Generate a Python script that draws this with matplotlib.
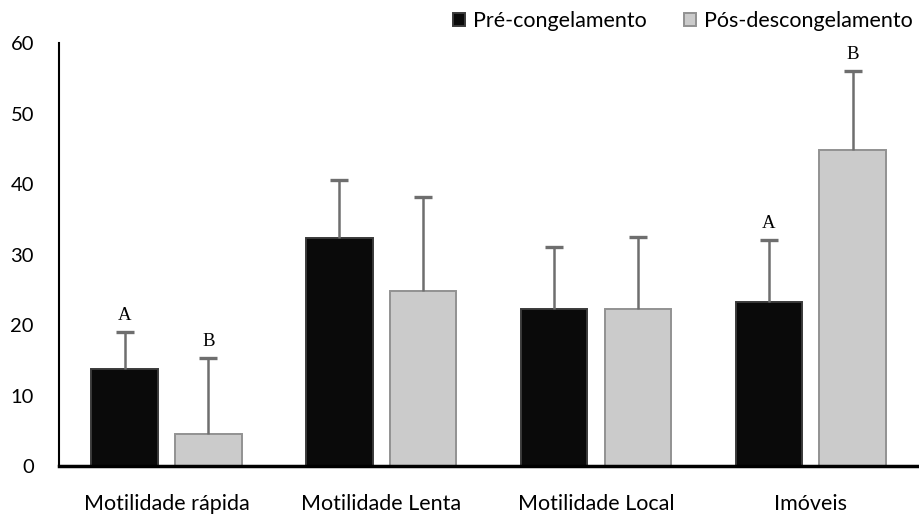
import matplotlib
matplotlib.use("Agg")
import matplotlib.pyplot as plt
import numpy as np

categories = ["Motilidade rápida", "Motilidade Lenta", "Motilidade Local", "Imóveis"]
series_names = ["Pré-congelamento", "Pós-descongelamento"]
pre_values = [13.7, 32.4, 22.3, 23.2]
pos_values = [4.5, 24.8, 22.3, 44.8]
pre_err = [5.3, 8.1, 8.7, 8.8]
pos_err = [10.8, 13.4, 10.2, 11.2]
pre_letters = ["A", "", "", "A"]
pos_letters = ["B", "", "", "B"]
yticks = [0, 10, 20, 30, 40, 50, 60]

plt.rcParams["font.family"] = ["Lato", "DejaVu Sans"]

fig = plt.figure(figsize=(9.19, 5.19), dpi=100)
ax = fig.add_axes([0.0642, 0.1021, 0.935, 0.815])

x = np.arange(len(categories))
width = 0.31
offset = 0.195

colors = ["#0a0a0a", "#cbcbcb"]
edges = ["#3a3a3a", "#929292"]

for vals, errs, letters, dx, fc, ec, name in [
    (pre_values, pre_err, pre_letters, -offset, colors[0], edges[0], series_names[0]),
    (pos_values, pos_err, pos_letters, offset, colors[1], edges[1], series_names[1]),
]:
    vals = np.asarray(vals)
    errs = np.asarray(errs)
    xs = x + dx
    ax.bar(xs, vals, width, color=fc, edgecolor=ec, linewidth=1.4,
           label=name, zorder=2)
    # upper-only error bars with a cap at the top
    ax.vlines(xs, vals, vals + errs, colors="#6e6e6e", linewidth=1.8, zorder=3)
    ax.plot(xs, vals + errs, linestyle="none", marker="_", markersize=13,
            markeredgewidth=2.4, color="#6e6e6e", zorder=3)
    for xi, top, t in zip(xs, vals + errs, letters):
        if t:
            ax.annotate(t, (xi, top), xytext=(0, 6), textcoords="offset points",
                        ha="center", va="bottom", fontsize=13.5,
                        family="Liberation Serif")

ax.set_xlim(-0.5, 3.5)
ax.set_ylim(0, 60)
ax.set_yticks(yticks)
ax.set_xticks(x)
ax.set_xticklabels(categories, fontsize=15.5)
ax.tick_params(axis="y", length=0, labelsize=14.5, pad=18)
ax.tick_params(axis="x", length=0, pad=20)
for s in ["top", "right"]:
    ax.spines[s].set_visible(False)
ax.spines["left"].set_linewidth(1.5)
ax.spines["bottom"].set_linewidth(2.5)

ax.legend(loc="lower right", bbox_to_anchor=(1.0, 1.015), ncol=2, frameon=False,
          fontsize=15.5, handlelength=0.55, handleheight=0.55, handletextpad=0.4,
          columnspacing=1.7, borderaxespad=0.05, borderpad=0.2)

fig.savefig("out.png", dpi=100)
